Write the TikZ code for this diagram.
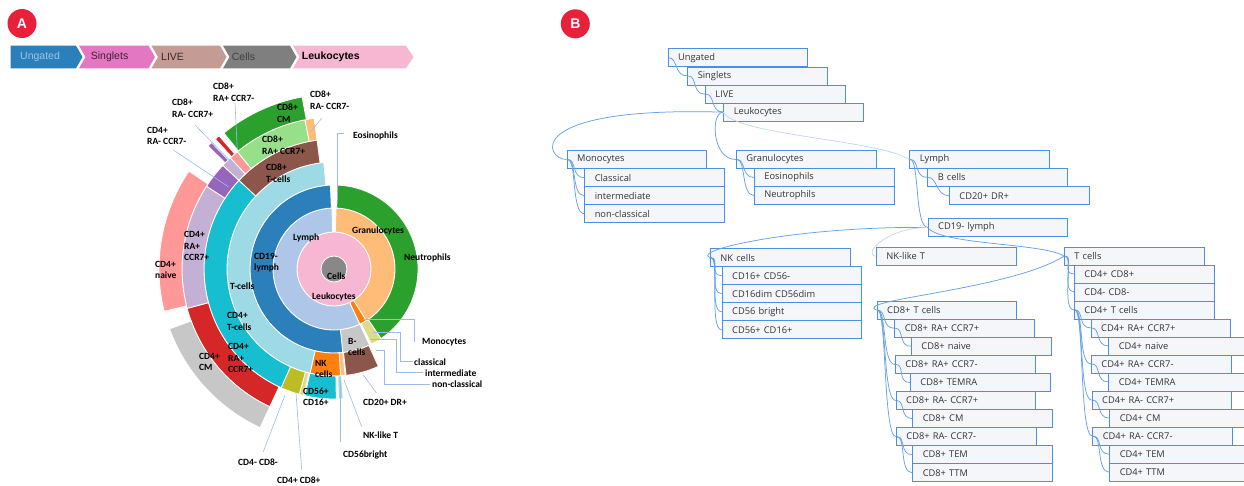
\documentclass[tikz,border=0pt]{standalone}
\usepackage{fontspec}
\setmainfont{Liberation Sans}
\newfontfamily\carl{Carlito}
\newfontfamily\osans{Open Sans}
\usetikzlibrary{calc}
\definecolor{cBlue}{HTML}{2B7FBA}
\definecolor{cLBlue}{HTML}{AEC7E8}
\definecolor{cOrange}{HTML}{FF7F0E}
\definecolor{cLOrange}{HTML}{FFBB78}
\definecolor{cGreen}{HTML}{2CA02C}
\definecolor{cLGreen}{HTML}{98DF8A}
\definecolor{cRed}{HTML}{D62728}
\definecolor{cLRed}{HTML}{FF9896}
\definecolor{cPurple}{HTML}{9467BD}
\definecolor{cLPurple}{HTML}{C5B0D5}
\definecolor{cBrown}{HTML}{8C564B}
\definecolor{cLBrown}{HTML}{C49C94}
\definecolor{cPink}{HTML}{E377C2}
\definecolor{cLPink}{HTML}{F7B6D2}
\definecolor{cGrey}{HTML}{7F7F7F}
\definecolor{cCells}{HTML}{888888}
\definecolor{cLGrey}{HTML}{C7C7C7}
\definecolor{cOlive}{HTML}{BCBD22}
\definecolor{cLOlive}{HTML}{DBDB8D}
\definecolor{cCyan}{HTML}{17BECF}
\definecolor{cLCyan}{HTML}{9EDAE5}
\definecolor{badge}{HTML}{E8213B}
\definecolor{lead}{HTML}{9BBCE6}
\definecolor{tline}{HTML}{4A90E2}
\definecolor{tfill}{HTML}{F5F6FA}
\definecolor{tfaint}{HTML}{C4D6EE}
\newcommand\sect[5]{%
  \pgfmathsetmacro\aA{#2-90}\pgfmathsetmacro\aB{#3-90}%
  \filldraw[fill=#1, draw=white, line width=0.8pt, shift={(334,269)}]
    (\aA:#4) arc[start angle=\aA, end angle=\aB, radius=#4]
    -- (\aB:#5) arc[start angle=\aB, end angle=\aA, radius=#5] -- cycle;}
\newcommand\tlnk[2]{\draw[tlk] ([xshift=1pt]#1.west) .. controls +(9,0) and +(-13,0) .. (#2.west);}
\tikzset{
  lab/.style={font=\carl\bfseries\fontsize{9.5}{11.6}\selectfont, align=left, inner sep=0pt, anchor=west, text=black},
  ld/.style={draw=lead, line width=0.6pt},
  bc/.style={font=\fontsize{10.5}{12}\selectfont, inner sep=0pt, anchor=west},
  tb/.style={draw=tline, fill=tfill, line width=0.9pt, anchor=north west, minimum width=139.5pt,
    minimum height=18pt, text width=119.5pt, inner xsep=10pt, inner ysep=0pt, align=left,
    font=\osans\fontsize{9.3}{11}\selectfont, text=black!80},
  tlk/.style={draw=tline!85, line width=0.75pt},
  tfa/.style={draw=tfaint, line width=0.75pt},
  badgenode/.style={circle, fill=badge, minimum size=29pt, inner sep=0pt, text=white,
    font=\bfseries\fontsize{14}{14}\selectfont}
}
\begin{document}
\begin{tikzpicture}[x=1pt,y=-1pt]
\useasboundingbox (0,0) rectangle (1244,485);
\clip (0,0) rectangle (1244,485);
% badges
\node[badgenode] (bA) at (22,23.5) {A};
\node[badgenode] (bB) at (575.3,23.8) {B};
% breadcrumb
\fill[cBlue] (10.7,45.7) -- (76,45.7) -- (82.5,57) -- (76,68.3) -- (10.7,68.3) -- cycle;
\fill[cPink] (79,45.7) -- (148.5,45.7) -- (155,57) -- (148.5,68.3) -- (79,68.3) -- (85.5,57) -- cycle;
\fill[cLBrown] (151.5,45.7) -- (220,45.7) -- (226.5,57) -- (220,68.3) -- (151.5,68.3) -- (158,57) -- cycle;
\fill[cGrey] (223,45.7) -- (290,45.7) -- (296.5,57) -- (290,68.3) -- (223,68.3) -- (229.5,57) -- cycle;
\fill[cLPink] (293,45.7) -- (406,45.7) -- (413.5,57) -- (406,68.3) -- (293,68.3) -- (299.5,57) -- cycle;
\node[bc, text=white!55!cBlue] (bc1) at (20,57) {Ungated};
\node[bc, text=black!72!cPink] (bc2) at (90.7,57) {Singlets};
\node[bc, text=black!72!cLBrown] (bc3) at (161,57) {LIVE};
\node[bc, text=black!75] (bc4) at (231.7,57) {Cells};
\node[bc, text=black, font=\bfseries\fontsize{10.5}{12}\selectfont] (bc5) at (301.7,57) {Leukocytes};
% sunburst
\filldraw[fill=cLPink, draw=white, line width=0.8pt] (334,269) circle[radius=37];
\filldraw[fill=cCells, draw=white, line width=0.8pt] (334,269) circle[radius=13];
% ring 2
\sect{cLOrange}{2}{148}{37}{61}
\sect{cOrange}{148}{155}{37}{61}
\sect{cLBlue}{155}{358}{37}{61}
% ring 3
\sect{cGreen}{2.5}{146}{61}{84}
\sect{cLOlive}{146}{153.5}{61}{84}
\sect{cLGrey}{155}{174}{61}{84}
\sect{cBlue}{174}{357.5}{61}{84}
% ring 4
\sect{cBrown}{155.5}{173.5}{84}{107}
\sect{cLOrange}{174}{176.5}{84}{107}
\sect{cOrange}{176.5}{193}{84}{107}
\sect{cLCyan}{193}{354.5}{84}{107}
% ring 5
\sect{cLCyan}{176}{178}{107}{130}
\sect{cCyan}{179}{193}{107}{130}
\sect{cLOlive}{193.5}{195.5}{107}{130}
\sect{cOlive}{195.5}{204}{107}{130}
\sect{cCyan}{204}{313}{107}{130}
\sect{cBrown}{313}{352.5}{107}{130}
% ring 6
\sect{cRed}{205}{255}{130}{152}
\sect{cLPurple}{255}{303}{130}{152}
\sect{cPurple}{303}{313}{130}{152}
\sect{cLPurple}{313}{317}{130}{152}
\sect{cLRed}{317}{320.5}{130}{152}
\sect{cLGreen}{320.5}{349}{130}{152}
\sect{cLOrange}{349}{352.5}{130}{152}
% ring 7
\sect{cLGrey}{205}{250}{152}{175}
\sect{cLRed}{256}{304}{152}{175}
\sect{cPurple}{314.3}{315.9}{152}{176}
\sect{cRed}{317.6}{319.2}{152}{176}
\sect{cGreen}{321}{349.5}{152}{175}
% sunburst labels
\node[lab] (l1) at (213,92.5) {CD8+\\RA+ CCR7-};
\node[lab] (l2) at (172,108) {CD8+\\RA- CCR7+};
\node[lab] (l3) at (147,136) {CD4+\\RA- CCR7-};
\node[lab] (l4) at (310,100) {CD8+\\RA- CCR7-};
\node[lab] (l5) at (277,113) {CD8+\\CM};
\node[lab] (l6) at (262,145) {CD8+\\RA+ CCR7+};
\node[lab] (l7) at (266,173) {CD8+\\T-cells};
\node[lab] (eos) at (353,136) {Eosinophils};
\node[lab] (lLy) at (293,238) {Lymph};
\node[lab] (lGr) at (352,231) {Granulocytes};
\node[lab] (lNe) at (404,258) {Neutrophils};
\node[lab] (l19) at (254,262.5) {CD19-\\lymph};
\node[lab] (lCe) at (327,276) {Cells};
\node[lab] (lLe) at (312,297) {Leukocytes};
\node[lab] (lTc) at (230,286) {T-cells};
\node[lab] (l4p) at (184,246) {CD4+\\RA+\\CCR7+};
\node[lab] (l4n) at (155,270) {CD4+\\naive};
\node[lab] (l4t) at (227,321.5) {CD4+\\T-cells};
\node[lab] (l4r) at (228,358.3) {CD4+\\RA+\\CCR7+};
\node[lab] (l4c) at (199,362) {CD4+\\CM};
\node[lab] (lNK) at (315,369) {NK\\cells};
\node[lab] (lBc) at (348,347) {B-\\cells};
\node[lab] (l56) at (303,396.7) {CD56+\\CD16+};
\node[lab] (mono) at (422,342) {Monocytes};
\node[lab] (clas) at (414,362) {classical};
\node[lab] (inter) at (425,373) {intermediate};
\node[lab] (nonc) at (432,384) {non-classical};
\node[lab] (cd20) at (363,402) {CD20+ DR+};
\node[lab] (nklt) at (363,435) {NK-like T};
\node[lab] (c56b) at (343,455) {CD56bright};
\node[lab] (dn) at (238,462) {CD4- CD8-};
\node[lab] (dp) at (277,480) {CD4+ CD8+};
% leader lines
\coordinate (e1) at (337.3,200); \coordinate (e2) at (343.5,133.3);
\draw[ld] (e1) |- (e2);
\coordinate (m1) at (363,319.3); \coordinate (m2) at (414,342);
\draw[ld] (m1) -| (m2);
\coordinate (c1) at (373,332.7); \coordinate (c2) at (412.7,361.7);
\draw[ld] (c1) -- ++(27.7,0) |- (c2);
\coordinate (i1) at (370,339.3); \coordinate (i2) at (423.3,372.7);
\draw[ld] (i1) -- ++(26,0) |- (i2);
\coordinate (n1) at (376,350); \coordinate (n2) at (430,384);
\draw[ld] (n1) -- ++(8,0) |- (n2);
\coordinate (d1) at (363.3,375); \coordinate (d2) at (376.7,393.3);
\draw[ld] (d1) -- (d2);
\coordinate (k1) at (344,380); \coordinate (k2) at (361.7,426.7);
\draw[ld] (k1) -- (k2);
\coordinate (b1) at (340,380); \coordinate (b2) at (340,441.7);
\draw[ld] (b1) -- (b2);
\coordinate (q1) at (285,395); \coordinate (q2) at (263.3,451.7);
\draw[ld] (q1) -- (q2);
\coordinate (p1) at (296,393.3); \coordinate (p2) at (301.7,470);
\draw[ld] (p1) -- (p2);
\coordinate (r1) at (310.7,131.7); \coordinate (r2) at (321.7,118.3);
\draw[ld] (r1) -- (r2);
\coordinate (s1) at (237.3,150); \coordinate (s2) at (235,103);
\draw[ld] (s1) -- (s2);
\coordinate (u1) at (229.3,160); \coordinate (u2) at (195,125);
\draw[ld] (u1) -- (u2);
\coordinate (v1) at (228.3,186.7); \coordinate (v2) at (173.3,150);
\draw[ld] (v1) -- (v2);
% tree boxes
\node[tb] (tU) at (667.7,48.3) {Ungated};
\node[tb] (tS) at (687.3,66.5) {Singlets};
\node[tb] (tL) at (705,84.7) {LIVE};
\node[tb] (tK) at (723.3,102.7) {Leukocytes};
\node[tb] (tMo) at (566.7,150) {Monocytes};
\node[tb] (tMc) at (584.3,168.3) {Classical};
\node[tb] (tMi) at (584.3,186.3) {intermediate};
\node[tb] (tMn) at (584.3,204.3) {non-classical};
\node[tb] (tG) at (736,150) {Granulocytes};
\node[tb] (tGe) at (754,168) {Eosinophils};
\node[tb] (tGn) at (754,186) {Neutrophils};
\node[tb] (tLy) at (909.3,150) {Lymph};
\node[tb] (tB) at (927.3,168) {B cells};
\node[tb] (tBd) at (949,186.3) {CD20+ DR+};
\node[tb] (t19) at (927.7,218) {CD19- lymph};
\node[tb] (tNKT) at (876,246.7) {NK-like T};
\node[tb] (tT) at (1064,246.7) {T cells};
\node[tb] (tDP) at (1074,264.5) {CD4+ CD8+};
\node[tb] (tDN) at (1074,282.5) {CD4- CD8-};
\node[tb] (t4) at (1074,300.5) {CD4+ T cells};
\node[tb] (t4a) at (1090.7,318.5) {CD4+ RA+ CCR7+};
\node[tb] (t4an) at (1108.3,336.5) {CD4+ naive};
\node[tb] (t4b) at (1091,354.5) {CD4+ RA+ CCR7-};
\node[tb] (t4bt) at (1108.3,372.5) {CD4+ TEMRA};
\node[tb] (t4c) at (1091.7,390.7) {CD4+ RA- CCR7+};
\node[tb] (t4cm) at (1109.3,408.7) {CD4+ CM};
\node[tb] (t4d) at (1092.3,426.7) {CD4+ RA- CCR7-};
\node[tb] (t4de) at (1109.3,444.8) {CD4+ TEM};
\node[tb] (t4dt) at (1109.3,462.8) {CD4+ TTM};
\node[tb] (tNK) at (710,248.3) {NK cells};
\node[tb] (tNK1) at (721.7,266.3) {CD16+ CD56-};
\node[tb] (tNK2) at (721.7,284.3) {CD16dim CD56dim};
\node[tb] (tNK3) at (721.7,302.3) {CD56 bright};
\node[tb] (tNK4) at (721.7,320.3) {CD56+ CD16+};
\node[tb] (t8) at (876.7,300.7) {CD8+ T cells};
\node[tb] (t8a) at (894.3,318.8) {CD8+ RA+ CCR7+};
\node[tb] (t8an) at (911,336.9) {CD8+ naive};
\node[tb] (t8b) at (895,355) {CD8+ RA+ CCR7-};
\node[tb] (t8bt) at (910,373.1) {CD8+ TEMRA};
\node[tb] (t8c) at (895.7,391.1) {CD8+ RA- CCR7+};
\node[tb] (t8cm) at (912.3,409.1) {CD8+ CM};
\node[tb] (t8d) at (896,427.2) {CD8+ RA- CCR7-};
\node[tb] (t8de) at (912.3,445.2) {CD8+ TEM};
\node[tb] (t8dt) at (912.3,463.3) {CD8+ TTM};
% tree links
\tlnk{tU}{tS} \tlnk{tS}{tL} \tlnk{tL}{tK}
\draw[tlk] (tK.west) .. controls (520,106) and (545,160) .. (tMo.west);
\draw[tlk] (tK.west) .. controls (710,112) and (712,160) .. (tG.west);
\draw[tfa] (tK.west) .. controls (735,135) and (880,140) .. (tLy.west);
\tlnk{tMo}{tMc} \tlnk{tMo}{tMi} \tlnk{tMo}{tMn}
\tlnk{tG}{tGe} \tlnk{tG}{tGn}
\tlnk{tLy}{tB} \tlnk{tB}{tBd} \tlnk{tLy}{t19}
\draw[tlk] (t19.west) .. controls (800,226) and (690,250) .. (tNK.west);
\draw[tfa] (t19.west) .. controls (885,228) and (862,255) .. (tNKT.west);
\draw[tlk] (t19.west) .. controls (940,245) and (1045,243) .. (tT.west);
\tlnk{tNK}{tNK1} \tlnk{tNK}{tNK2} \tlnk{tNK}{tNK3} \tlnk{tNK}{tNK4}
\tlnk{tT}{tDP} \tlnk{tT}{tDN} \tlnk{tT}{t4}
\draw[tlk] (tT.west) .. controls (1010,290) and (850,300) .. (t8.west);
\tlnk{t4}{t4a} \tlnk{t4}{t4b} \tlnk{t4}{t4c} \tlnk{t4}{t4d}
\tlnk{t4a}{t4an} \tlnk{t4b}{t4bt} \tlnk{t4c}{t4cm} \tlnk{t4d}{t4de} \tlnk{t4d}{t4dt}
\tlnk{t8}{t8a} \tlnk{t8}{t8b} \tlnk{t8}{t8c} \tlnk{t8}{t8d}
\tlnk{t8a}{t8an} \tlnk{t8b}{t8bt} \tlnk{t8c}{t8cm} \tlnk{t8d}{t8de} \tlnk{t8d}{t8dt}
\end{tikzpicture}
\end{document}
